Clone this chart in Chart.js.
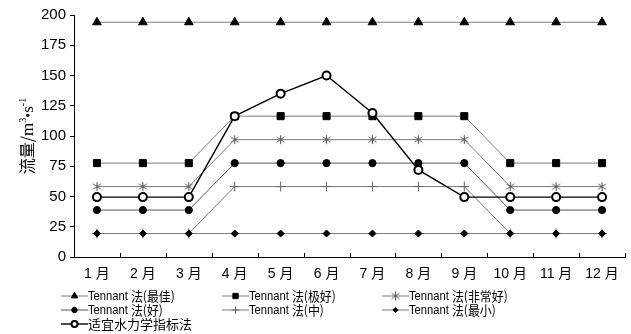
<!DOCTYPE html>
<html>
<head>
<meta charset="utf-8">
<script src="https://cdn.jsdelivr.net/npm/chart.js@4/dist/chart.umd.min.js"></script>
<style>
  html, body { margin: 0; padding: 0; background: #fff; }
  #wrap { width: 631px; height: 334px; }
</style>
</head>
<body>
<div id="wrap"><canvas id="myChart" width="631" height="334"></canvas></div>
<script>
var months = ['1 月', '2 月', '3 月', '4 月', '5 月', '6 月', '7 月', '8 月', '9 月', '10 月', '11 月', '12 月'];
var yTicks = [0, 25, 50, 75, 100, 125, 150, 175, 200];

var best      = [194, 194, 194, 194, 194, 194, 194, 194, 194, 194, 194, 194];
var excellent = [77.6, 77.6, 77.6, 116.4, 116.4, 116.4, 116.4, 116.4, 116.4, 77.6, 77.6, 77.6];
var veryGood  = [58.2, 58.2, 58.2, 97, 97, 97, 97, 97, 97, 58.2, 58.2, 58.2];
var good      = [38.8, 38.8, 38.8, 77.6, 77.6, 77.6, 77.6, 77.6, 77.6, 38.8, 38.8, 38.8];
var fair      = [19.4, 19.4, 19.4, 58.2, 58.2, 58.2, 58.2, 58.2, 58.2, 19.4, 19.4, 19.4];
var minimum   = [19.4, 19.4, 19.4, 19.4, 19.4, 19.4, 19.4, 19.4, 19.4, 19.4, 19.4, 19.4];
var hydraulic = [49.5, 49.5, 49.5, 116.4, 135, 150, 119, 72, 49.5, 49.5, 49.5, 49.5];

var legendNames = ['Tennant 法(最佳)', 'Tennant 法(极好)', 'Tennant 法(非常好)',
                   'Tennant 法(好)', 'Tennant 法(中)', 'Tennant 法(最小)', '适宜水力学指标法'];

// six-spoke asterisk marker
function makeAsterisk(size, color) {
  var c = document.createElement('canvas');
  c.width = size; c.height = size;
  var g = c.getContext('2d');
  var m = size / 2, r = size / 2 - 1;
  g.strokeStyle = color;
  g.lineWidth = 1;
  g.beginPath();
  g.moveTo(m, m - r); g.lineTo(m, m + r);
  g.moveTo(m - r * 0.87, m - r * 0.6); g.lineTo(m + r * 0.87, m + r * 0.6);
  g.moveTo(m - r * 0.87, m + r * 0.6); g.lineTo(m + r * 0.87, m - r * 0.6);
  g.stroke();
  return c;
}
var asterisk = makeAsterisk(11, '#555');

function series(label, data, style, opts) {
  var d = {
    label: label,
    data: data,
    borderColor: '#7a7a7a',
    borderWidth: 1,
    pointStyle: style,
    pointRadius: 4,
    pointBackgroundColor: '#000',
    pointBorderColor: '#000',
    pointBorderWidth: 1,
    tension: 0,
    fill: false
  };
  for (var k in opts) d[k] = opts[k];
  return d;
}

var datasets = [
  series(legendNames[6], hydraulic, 'circle', { borderColor: '#000', borderWidth: 1.4, pointBackgroundColor: '#fff', pointBorderWidth: 2, pointRadius: 4 }),
  series(legendNames[0], best, 'triangle', { pointRadius: 5 }),
  series(legendNames[1], excellent, 'rect', { pointRadius: 5 }),
  series(legendNames[2], veryGood, asterisk, {}),
  series(legendNames[3], good, 'circle', { borderColor: '#555', pointRadius: 3.6 }),
  series(legendNames[5], minimum, 'rectRot', { pointRadius: 3.5 }),
  series(legendNames[4], fair, 'cross', { pointBorderColor: '#666', pointRadius: 5 })
];

// order shown in the legend grid (3 columns)
var legendOrder = [1, 2, 3, 4, 6, 5, 0];
var legendCols = [61, 222, 382];
var legendRows = [296, 310, 324];

// draws mixed-font text pieces one after another, returns end x
function drawRuns(ctx, runs, x, y) {
  runs.forEach(function(r) {
    ctx.font = r.font;
    ctx.save();
    ctx.translate(x, y + (r.dy || 0));
    ctx.scale(r.sx || 1, 1);
    ctx.fillText(r.text, 0, 0);
    ctx.restore();
    x += ctx.measureText(r.text).width * (r.sx || 1);
  });
  return x;
}
function runsWidth(ctx, runs) {
  var w = 0;
  runs.forEach(function(r) { ctx.font = r.font; w += ctx.measureText(r.text).width * (r.sx || 1); });
  return w;
}

var CJK = '"Noto Sans CJK SC"';
var SERIF = '"Liberation Serif"';

function legendRuns(label) {
  var m = label.match(/^(Tennant )(.*)$/);
  if (!m) return [{ text: label, font: '13px ' + CJK }];
  return [
    { text: m[1], font: '13px "Liberation Sans"', sx: 0.86 },
    { text: m[2], font: '13px ' + CJK, sx: 0.92 }
  ];
}

var axisExtras = {
  id: 'axisExtras',
  afterDraw: function(chart) {
    var ctx = chart.ctx;
    var x = chart.scales.x, area = chart.chartArea;
    ctx.save();
    // small upward ticks between months
    ctx.strokeStyle = '#000';
    ctx.lineWidth = 1;
    ctx.beginPath();
    for (var i = 0; i <= months.length; i++) {
      var px = Math.round(x.getPixelForValue(i - 0.5)) + 0.5;
      ctx.moveTo(px, area.bottom);
      ctx.lineTo(px, area.bottom - 4);
    }
    ctx.stroke();

    // y axis title with superscripts
    ctx.translate(27, (area.top + area.bottom) / 2);
    ctx.rotate(-Math.PI / 2);
    ctx.fillStyle = '#000';
    ctx.textBaseline = 'alphabetic';
    var title = [
      { text: '流量/', font: '16px ' + CJK },
      { text: 'm', font: '17px ' + SERIF },
      { text: '3', font: '10px ' + SERIF, dy: -7 },
      { text: '•', font: '14px ' + SERIF },
      { text: 's', font: '17px ' + SERIF },
      { text: '-1', font: '10px ' + SERIF, dy: -7 }
    ];
    drawRuns(ctx, title, -runsWidth(ctx, title) / 2, 6);
    ctx.restore();

    // legend grid
    ctx.save();
    legendOrder.forEach(function(di, n) {
      var ds = chart.data.datasets[di];
      var lx = legendCols[n % 3], ly = legendRows[Math.floor(n / 3)];
      ctx.strokeStyle = ds.borderColor;
      ctx.lineWidth = ds.borderWidth;
      ctx.beginPath();
      ctx.moveTo(lx, ly);
      ctx.lineTo(lx + 27, ly);
      ctx.stroke();
      ctx.fillStyle = ds.pointBackgroundColor;
      ctx.strokeStyle = ds.pointBorderColor;
      ctx.lineWidth = ds.pointBorderWidth;
      Chart.helpers.drawPoint(ctx, {
        pointStyle: ds.pointStyle,
        radius: ds.pointRadius * 0.75,
        rotation: 0,
        borderWidth: ds.pointBorderWidth
      }, lx + 13.5, ly);
      ctx.fillStyle = '#000';
      ctx.textBaseline = 'middle';
      drawRuns(ctx, legendRuns(ds.label), lx + 27, ly);
    });
    ctx.restore();
  }
};

var ctx = document.getElementById('myChart').getContext('2d');
var myChart = new Chart(ctx, {
  type: 'line',
  data: { labels: months, datasets: datasets },
  options: {
    responsive: false,
    animation: false,
    layout: { padding: { top: 15, right: 4, left: 0, bottom: 0 } },
    plugins: { legend: { display: false }, tooltip: { enabled: false } },
    scales: {
      x: {
        offset: true,
        grid: { display: true, drawOnChartArea: false, drawTicks: false },
        border: { color: '#000', width: 1 },
        ticks: {
          color: '#000',
          padding: 9,
          maxRotation: 0,
          font: { size: 14, family: '"Liberation Sans", "Noto Sans CJK SC"' }
        },
        afterFit: function(scale) { scale.height = 77; }
      },
      y: {
        min: 0,
        max: 200,
        afterBuildTicks: function(scale) {
          scale.ticks = yTicks.map(function(v) { return { value: v }; });
        },
        grid: { drawOnChartArea: false, tickLength: 4, color: '#000' },
        border: { color: '#000', width: 1 },
        ticks: {
          color: '#000',
          padding: 4,
          font: { size: 15, family: '"Liberation Sans"' }
        },
        afterFit: function(scale) { scale.width = 74; }
      }
    }
  },
  plugins: [axisExtras]
});
</script>
</body>
</html>
